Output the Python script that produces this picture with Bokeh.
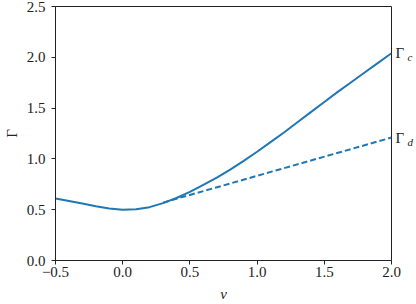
from bokeh.plotting import figure
from bokeh.models import FixedTicker, Range1d, LinearAxis
from bokeh.embed import file_html
from bokeh.resources import INLINE

# data
nu = [-0.5, -0.4, -0.3, -0.2, -0.1, 0.0, 0.1, 0.2, 0.3, 0.4, 0.5, 0.6, 0.7,
      0.8, 0.9, 1.0, 1.1, 1.2, 1.3, 1.4, 1.5, 1.6, 1.7, 1.8, 1.9, 2.0]
gamma_c = [0.61, 0.585, 0.56, 0.535, 0.512, 0.50, 0.505, 0.525, 0.565, 0.615,
           0.675, 0.745, 0.815, 0.895, 0.98, 1.07, 1.165, 1.26, 1.36, 1.46,
           1.56, 1.66, 1.755, 1.85, 1.945, 2.04]
nu_d = [0.3, 2.0]
gamma_d = [0.57, 1.21]
x_ticks = [-0.5, 0.0, 0.5, 1.0, 1.5, 2.0]
x_tick_labels = ["\u22120.5", "0.0", "0.5", "1.0", "1.5", "2.0"]
y_ticks = [0.0, 0.5, 1.0, 1.5, 2.0, 2.5]
y_tick_labels = ["0.0", "0.5", "1.0", "1.5", "2.0", "2.5"]
end_values = [gamma_c[-1], gamma_d[-1]]
end_subscripts = ["c", "d"]

FONT = "Liberation Serif"
BLUE = "#1f77b4"
INK = "#222222"

p = figure(width=416, height=304, output_backend="svg", toolbar_location=None,
           x_range=Range1d(-0.5, 2.0), y_range=Range1d(0.0, 2.5),
           min_border_left=50, min_border_right=24, min_border_top=6,
           min_border_bottom=44)
p.grid.visible = False
p.outline_line_color = INK
p.outline_line_width = 1
p.background_fill_color = "white"
p.border_fill_color = "white"

p.line(nu, gamma_c, line_color=BLUE, line_width=2)
p.line(nu_d, gamma_d, line_color=BLUE, line_width=2, line_dash="6 3")

for ax, ticks, labels in ((p.xaxis, x_ticks, x_tick_labels), (p.yaxis, y_ticks, y_tick_labels)):
    ax.ticker = FixedTicker(ticks=ticks)
    ax.major_label_overrides = {t: l for t, l in zip(ticks, labels)}
    ax.minor_tick_line_color = None
    ax.major_tick_in = 0
    ax.major_tick_out = 4
    ax.axis_line_color = INK
    ax.major_tick_line_color = INK
    ax.major_label_text_font = FONT
    ax.major_label_text_font_size = "15px"
    ax.major_label_text_color = INK
    ax.axis_label_text_font = FONT
    ax.axis_label_text_font_size = "15px"
    ax.axis_label_text_color = INK

p.xaxis.axis_label = "\u03bd"
p.xaxis.axis_label_text_font_style = "italic"
p.xaxis.major_label_standoff = 2
p.xaxis.axis_label_standoff = 6
p.yaxis.axis_label = "\u0393"
p.yaxis.axis_label_text_font_style = "normal"
p.yaxis.major_label_standoff = 6
p.yaxis.axis_label_standoff = 4

# end labels on the right: "Γ" plus an italic subscript
gam_axis = LinearAxis(ticker=FixedTicker(ticks=end_values),
                      major_label_overrides={v: "\u0393" for v in end_values})
sub_shift = 0.04
sub_ticks = [v - sub_shift for v in end_values]
sub_axis = LinearAxis(ticker=FixedTicker(ticks=sub_ticks),
                      major_label_overrides={v: s for v, s in zip(sub_ticks, end_subscripts)})
for ax, size, style, standoff in ((gam_axis, "15px", "normal", 4), (sub_axis, "11px", "italic", 0)):
    ax.axis_line_color = None
    ax.major_tick_line_color = None
    ax.minor_tick_line_color = None
    ax.major_tick_in = 0
    ax.major_tick_out = 0
    ax.major_label_standoff = standoff
    ax.major_label_text_font = FONT
    ax.major_label_text_font_size = size
    ax.major_label_text_font_style = style
    ax.major_label_text_color = INK
    p.add_layout(ax, "right")

open("out.html", "w").write(file_html(p, INLINE))
